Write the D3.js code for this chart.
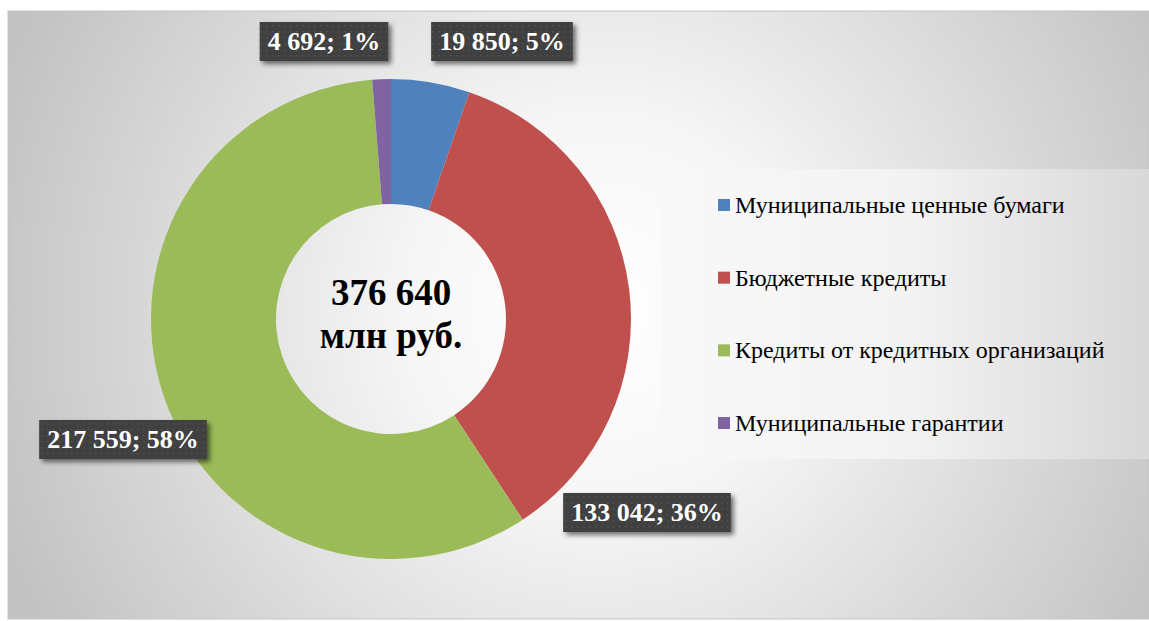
<!DOCTYPE html>
<html>
<head>
  <meta charset="utf-8">
  <script src="https://d3js.org/d3.v7.min.js"></script>
  <style>
    body { margin: 0; background: #fff; }
    svg { display: block; }
  </style>
</head>
<body>
  <svg width="1149" height="621"></svg>
  <script>
    // данные диаграммы
    var categories = ["Муниципальные ценные бумаги", "Бюджетные кредиты", "Кредиты от кредитных организаций", "Муниципальные гарантии"];
    var values = [19850, 133042, 217559, 4692];
    var shares = ["5%", "36%", "58%", "1%"];
    var colors = ["#4F81BD", "#C0504D", "#9BBB59", "#8064A2"];
    var totalLines = ["376 640", "млн руб."];

    // смещения подписей от центра кольца (как расставил Excel)
    var labelOffsets = [[111, -278], [256, 193], [-268, 120], [-67, -278]];

    var fmt = function (v) { return d3.format(",")(v).replace(/,/g, " "); };

    var svg = d3.select("svg");
    var defs = svg.append("defs");

    // фон области диаграммы
    var bg = defs.append("radialGradient").attr("id", "bg")
      .attr("gradientUnits", "userSpaceOnUse")
      .attr("cx", 600).attr("cy", 310).attr("r", 640);
    bg.append("stop").attr("offset", 0).attr("stop-color", "#ffffff");
    bg.append("stop").attr("offset", 0.3).attr("stop-color", "#f6f6f6");
    bg.append("stop").attr("offset", 1).attr("stop-color", "#c2c2c2");

    var lg = defs.append("linearGradient").attr("id", "lg");
    lg.append("stop").attr("offset", 0).attr("stop-color", "#f8f8f8");
    lg.append("stop").attr("offset", 0.5).attr("stop-color", "#f3f3f3");
    lg.append("stop").attr("offset", 1).attr("stop-color", "#d8d8d8");

    var pat = defs.append("pattern").attr("id", "dots")
      .attr("patternUnits", "userSpaceOnUse").attr("width", 6).attr("height", 6);
    pat.append("rect").attr("width", 6).attr("height", 6).attr("fill", "#404040");
    pat.append("rect").attr("x", 2).attr("y", 2).attr("width", 1.5).attr("height", 1.5).attr("fill", "#525252");

    var sh = defs.append("filter").attr("id", "shadow")
      .attr("x", "-20%").attr("y", "-30%").attr("width", "150%").attr("height", "180%");
    sh.append("feDropShadow").attr("dx", 3).attr("dy", 3).attr("stdDeviation", 2.5)
      .attr("flood-color", "#000").attr("flood-opacity", 0.55);

    svg.append("rect")
      .attr("x", 8).attr("y", 11).attr("width", 1141).attr("height", 608)
      .attr("fill", "url(#bg)").attr("stroke", "#c4c4c4");

    // кольцевая диаграмма
    var cx = 391, cy = 319, outerR = 240, innerR = 115;
    var g = svg.append("g").attr("transform", "translate(" + cx + "," + cy + ")");
    var pie = d3.pie().sort(null).value(function (d) { return d; });
    var arc = d3.arc().innerRadius(innerR).outerRadius(outerR);
    var arcs = pie(values);

    g.selectAll("path.slice")
      .data(arcs)
      .enter()
      .append("path")
      .attr("class", "slice")
      .attr("d", arc)
      .attr("fill", function (d, i) { return colors[i]; });

    // текст в центре
    g.selectAll("text.total")
      .data(totalLines)
      .enter()
      .append("text")
      .attr("class", "total")
      .attr("x", 0)
      .attr("y", function (d, i) { return -14 + i * 43; })
      .attr("text-anchor", "middle")
      .style("font-family", "'Liberation Serif', 'Times New Roman', serif")
      .style("font-weight", "bold")
      .style("font-size", "37px")
      .text(function (d) { return d; });

    // подписи данных
    var labels = g.selectAll("g.lbl")
      .data(arcs)
      .enter()
      .append("g")
      .attr("class", "lbl")
      .attr("transform", function (d, i) { return "translate(" + labelOffsets[i][0] + "," + labelOffsets[i][1] + ")"; });

    labels.each(function (d, i) {
      var lab = d3.select(this);
      var box = lab.append("rect").attr("fill", "url(#dots)").attr("filter", "url(#shadow)");
      var t = lab.append("text")
        .attr("text-anchor", "middle")
        .attr("y", 9)
        .attr("fill", "#ffffff")
        .style("font-family", "'Liberation Serif', 'Times New Roman', serif")
        .style("font-weight", "bold")
        .style("font-size", "26px")
        .text(fmt(values[i]) + "; " + shares[i]);
      var w = t.node().getComputedTextLength() + 16;
      box.attr("x", -w / 2).attr("y", -19).attr("width", w).attr("height", 39);
    });

    // легенда
    var legend = svg.append("g");
    legend.append("rect")
      .attr("x", 661).attr("y", 169).attr("width", 488).attr("height", 290)
      .attr("fill", "url(#lg)");

    var rowY = d3.scalePoint().domain(categories).range([205, 423]);

    var items = legend.selectAll("g.item")
      .data(categories)
      .enter()
      .append("g")
      .attr("class", "item")
      .attr("transform", function (d) { return "translate(718," + rowY(d) + ")"; });

    items.append("rect")
      .attr("x", 0).attr("y", -6).attr("width", 12).attr("height", 12)
      .attr("fill", function (d, i) { return colors[i]; });

    items.append("text")
      .attr("x", 17).attr("y", 8)
      .style("font-family", "'Liberation Serif', 'Times New Roman', serif")
      .style("font-size", "24px")
      .attr("fill", "#000")
      .text(function (d) { return d; });
  </script>
</body>
</html>
